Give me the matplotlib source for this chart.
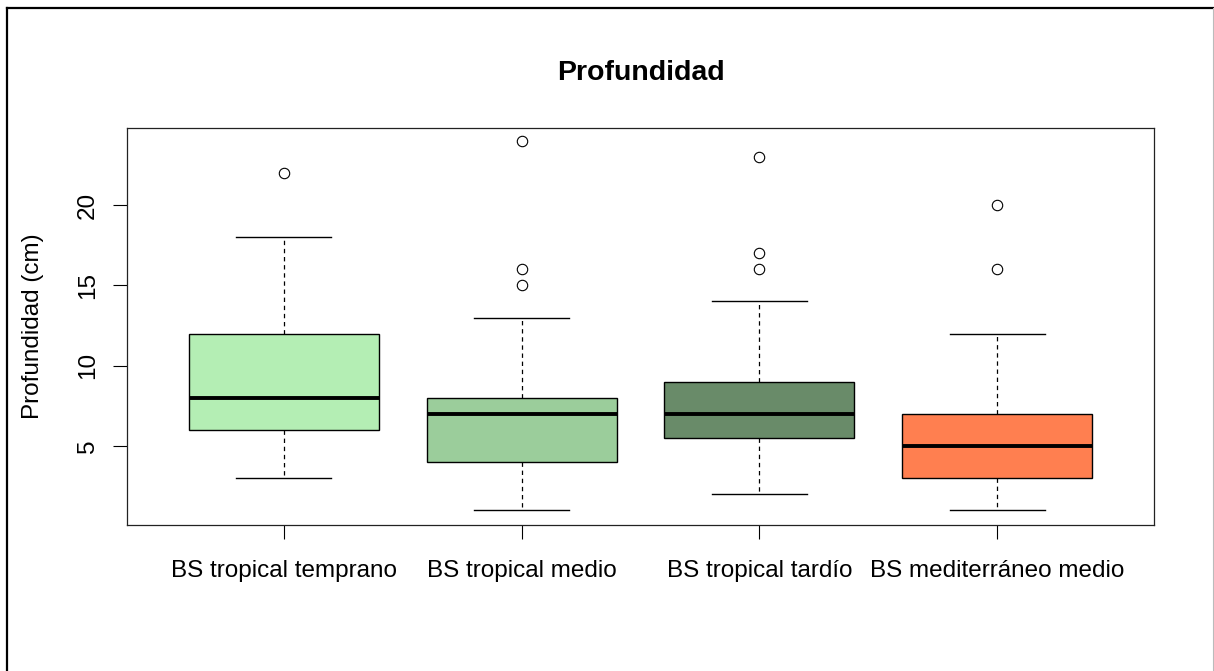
import matplotlib
matplotlib.use('Agg')
import matplotlib.pyplot as plt
from matplotlib.lines import Line2D

plt.rcParams['font.family'] = ['Liberation Sans', 'DejaVu Sans']

# box summary
categories = ['BS tropical temprano', 'BS tropical medio',
              'BS tropical tardío', 'BS mediterráneo medio']
whislo = [3, 1, 2, 1]
q1 = [6, 4, 5.5, 3]
med = [8, 7, 7, 5]
q3 = [12, 8, 9, 7]
whishi = [18, 13, 14, 12]
fliers = [[22], [15, 16, 24], [16, 17, 23], [16, 20]]
colors = ['#B4EEB4', '#9BCD9B', '#698B69', '#FF7F50']

stats = []
for i in range(len(categories)):
    stats.append(dict(whislo=whislo[i], q1=q1[i], med=med[i], q3=q3[i],
                      whishi=whishi[i], fliers=fliers[i], label=categories[i]))

fig = plt.figure(figsize=(12.14, 6.71), dpi=100)
ax = fig.add_axes([127/1214, 1-525/671, (1154-127)/1214, (525-128)/671])

bp = ax.bxp(stats, positions=[1, 2, 3, 4], widths=0.8, patch_artist=True,
            showfliers=True,
            boxprops=dict(edgecolor='black', linewidth=1),
            medianprops=dict(color='black', linewidth=2.8, solid_capstyle='butt'),
            whiskerprops=dict(color='black', linewidth=0.9, linestyle=(0, (3.5, 3))),
            capprops=dict(color='black', linewidth=1),
            flierprops=dict(marker='o', markersize=7.5, markerfacecolor='none',
                            markeredgecolor='black', markeredgewidth=0.8))
for patch, c in zip(bp['boxes'], colors):
    patch.set_facecolor(c)
for cap in bp['caps']:
    x = cap.get_xdata()
    mid = (x[0] + x[1]) / 2
    cap.set_xdata([mid - 0.2, mid + 0.2])

ax.set_xlim(0.34, 4.66)
ax.set_ylim(0.08, 24.8)
ax.set_yticks([5, 10, 15, 20])
ax.set_yticklabels(['5', '10', '15', '20'], rotation=90, va='center')
ax.set_xticks([1, 2, 3, 4])
ax.set_xticklabels(categories)
ax.tick_params(axis='y', length=10, width=0.8, pad=10, labelsize=17.5)
ax.tick_params(axis='x', length=10, width=0.8, pad=15.5, labelsize=17.5)
for s in ax.spines.values():
    s.set_linewidth(0.9)
    s.set_color('#222222')

ax.set_ylabel('Profundidad (cm)', fontsize=17.5, labelpad=24)
fig.text(640.5/1214, 1-73/671, 'Profundidad', ha='center', va='center',
         fontsize=20.5, fontweight='bold')

# outer frame
fig.add_artist(Line2D([7/1214, 7/1214], [0, 1-8/671], color='black', lw=1.6,
                      transform=fig.transFigure))
fig.add_artist(Line2D([7/1214, 1213/1214], [1-8/671, 1-8/671], color='black', lw=1.6,
                      transform=fig.transFigure))
fig.add_artist(Line2D([1213/1214, 1213/1214], [0, 1-8/671], color='#bbbbbb', lw=0.8,
                      transform=fig.transFigure))

fig.savefig('out.png', dpi=100)
